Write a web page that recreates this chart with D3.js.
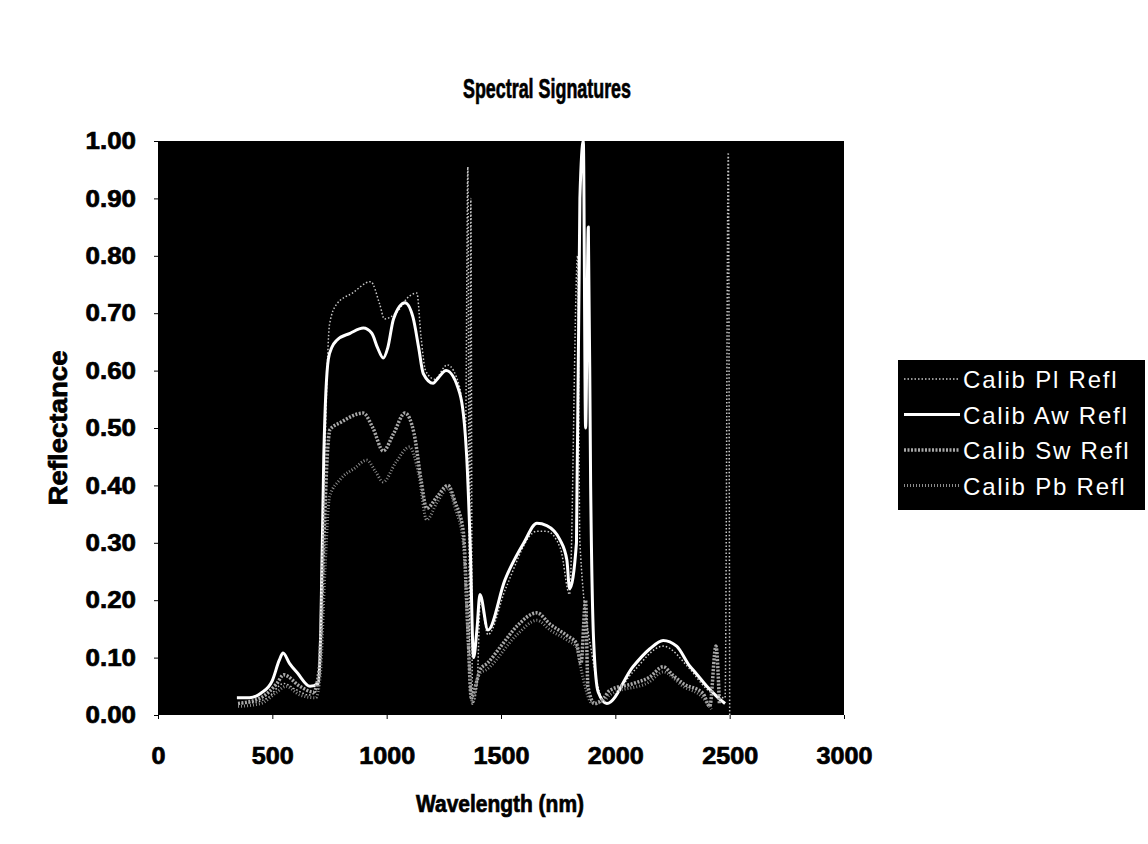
<!DOCTYPE html>
<html lang="en">
<head>
<meta charset="UTF-8">
<title>Spectral Signatures</title>
<script src="https://cdn.jsdelivr.net/npm/d3@7"></script>
<style>
  body { margin: 0; background: #fff; }
  text { font-family: "Liberation Sans", Arial, sans-serif; }
</style>
</head>
<body>
<script>
  // values: [wavelength nm, reflectance]
  let calibPl = [[350,0.02],[420,0.022],[480,0.03],[550,0.055],[600,0.045],[660,0.035],[700,0.045],[715,0.15],[730,0.45],[750,0.68],[780,0.715],[850,0.735],[930,0.755],[970,0.715],[990,0.69],[1040,0.70],[1100,0.73],[1132,0.735],[1150,0.66],[1170,0.60],[1210,0.585],[1265,0.61],[1320,0.57],[1345,0.50],[1355,0.955],[1362,0.10],[1368,0.90],[1375,0.02],[1395,0.05],[1410,0.20],[1443,0.14],[1520,0.22],[1657,0.32],[1700,0.32],[1760,0.29],[1800,0.21],[1835,0.8],[1845,0.3],[1900,0.1],[1960,0.02],[2077,0.075],[2209,0.12],[2326,0.08],[2400,0.045],[2480,0.03],[2494,0.98],[2500,0.0]];
  let calibAw = [[345,0.03],[400,0.03],[450,0.038],[500,0.06],[530,0.095],[547,0.108],[575,0.09],[610,0.073],[665,0.05],[700,0.055],[712,0.15],[725,0.45],[745,0.62],[761,0.641],[782,0.653],[840,0.665],[898,0.674],[935,0.665],[960,0.64],[985,0.622],[1005,0.64],[1030,0.69],[1080,0.718],[1115,0.693],[1140,0.64],[1160,0.595],[1203,0.578],[1225,0.587],[1260,0.6],[1320,0.56],[1350,0.45],[1365,0.3],[1380,0.1],[1395,0.15],[1408,0.21],[1443,0.148],[1517,0.235],[1600,0.30],[1657,0.334],[1700,0.33],[1758,0.305],[1788,0.27],[1800,0.22],[1830,0.30],[1845,0.90],[1860,1.0],[1870,0.5],[1882,0.85],[1892,0.40],[1905,0.13],[1925,0.04],[1963,0.02],[2077,0.084],[2150,0.115],[2209,0.13],[2268,0.12],[2326,0.085],[2348,0.075],[2400,0.05],[2450,0.03],[2480,0.02]];
  let calibSw = [[350,0.02],[450,0.03],[520,0.055],[550,0.07],[620,0.05],[680,0.04],[705,0.08],[725,0.3],[740,0.45],[752,0.497],[800,0.51],[897,0.526],[940,0.50],[985,0.46],[1030,0.49],[1080,0.526],[1120,0.49],[1150,0.41],[1175,0.36],[1220,0.38],[1268,0.40],[1300,0.37],[1335,0.32],[1355,0.15],[1370,0.03],[1395,0.06],[1410,0.08],[1440,0.09],[1500,0.12],[1570,0.155],[1657,0.178],[1715,0.158],[1790,0.138],[1830,0.125],[1850,0.09],[1870,0.20],[1880,0.05],[1910,0.02],[1950,0.03],[1976,0.043],[2080,0.055],[2150,0.066],[2209,0.084],[2250,0.07],[2296,0.055],[2383,0.038],[2413,0.015],[2440,0.12],[2455,0.02]];
  let calibPb = [[350,0.015],[450,0.02],[520,0.04],[560,0.05],[620,0.035],[690,0.03],[710,0.07],[730,0.25],[750,0.38],[796,0.41],[860,0.43],[913,0.444],[950,0.425],[985,0.406],[1040,0.44],[1100,0.467],[1140,0.42],[1175,0.34],[1220,0.37],[1268,0.395],[1300,0.36],[1335,0.30],[1360,0.10],[1375,0.02],[1400,0.07],[1440,0.08],[1570,0.14],[1657,0.165],[1715,0.148],[1790,0.13],[1830,0.118],[1850,0.08],[1900,0.02],[1950,0.025],[1976,0.035],[2150,0.058],[2209,0.075],[2296,0.05],[2383,0.03],[2420,0.01]];

  let seriesNames = ['Calib Pl Refl', 'Calib Aw Refl', 'Calib Sw Refl', 'Calib Pb Refl'];
  let seriesData = [calibPl, calibAw, calibSw, calibPb];
  let xTicks = [0, 500, 1000, 1500, 2000, 2500, 3000];
  let yTicks = [0, 0.1, 0.2, 0.3, 0.4, 0.5, 0.6, 0.7, 0.8, 0.9, 1.0];

  // line looks, same order as the names
  let styles = [
    { stroke: '#c8c8c8', width: 1.5, dash: '1.5,2' },
    { stroke: '#ffffff', width: 3, dash: null },
    { stroke: '#a8a8a8', width: 3.5, dash: '2,1.5' },
    { stroke: '#8c8c8c', width: 3, dash: '1,2' }
  ];

  let width = 1148,
      height = 844,
      plot = { left: 158, top: 141, right: 844, bottom: 715 };

  let svg = d3.select('body').append('svg').attr('width', width).attr('height', height);

  let x = d3.scaleLinear().domain([0, 3000]).range([plot.left, plot.right]);
  let y = d3.scaleLinear().domain([0, 1]).range([plot.bottom, plot.top]);

  svg.append('rect')
    .attr('x', plot.left).attr('y', plot.top)
    .attr('width', plot.right - plot.left).attr('height', plot.bottom - plot.top)
    .attr('fill', '#000');

  svg.append('clipPath').attr('id', 'clip')
    .append('rect')
    .attr('x', plot.left).attr('y', plot.top - 1)
    .attr('width', plot.right - plot.left).attr('height', plot.bottom - plot.top + 1);

  // bold labels in the scan are heavy, so a thin stroke thickens them
  function heavy(sel, size) {
    return sel.attr('font-size', size).attr('font-weight', 'bold').attr('fill', '#000')
      .attr('stroke', '#000').attr('stroke-width', 0.7)
      .style('font-family', '"Liberation Sans", Arial, sans-serif');
  }
  // the scanned digits are a bit wider than Liberation's
  function widen(sel, k) {
    sel.each(function () {
      let w = this.getComputedTextLength();
      d3.select(this).attr('textLength', w * k).attr('lengthAdjust', 'spacingAndGlyphs');
    });
  }

  // title (condensed in the scan)
  heavy(svg.append('text'), 28)
    .attr('x', 547).attr('y', 98)
    .attr('text-anchor', 'middle')
    .attr('textLength', 168).attr('lengthAdjust', 'spacingAndGlyphs')
    .text('Spectral Signatures');

  // axes
  let yAxis = d3.axisLeft(y).tickValues(yTicks).tickFormat(d3.format('.2f')).tickSize(4).tickPadding(18);
  let gy = svg.append('g').attr('transform', `translate(${plot.left},0)`).call(yAxis);
  gy.select('.domain').remove();
  heavy(gy.selectAll('text'), 24);
  widen(gy.selectAll('text'), 1.08);
  gy.selectAll('line').attr('stroke', '#000');

  let xAxis = d3.axisBottom(x).tickValues(xTicks).tickFormat(d3.format('d')).tickSize(4).tickPadding(28);
  let gx = svg.append('g').attr('transform', `translate(0,${plot.bottom})`).call(xAxis);
  gx.select('.domain').remove();
  heavy(gx.selectAll('text'), 24);
  widen(gx.selectAll('text'), 1.05);
  gx.selectAll('line').attr('stroke', '#000');

  heavy(svg.append('text'), 23)
    .attr('x', 500).attr('y', 812)
    .attr('text-anchor', 'middle')
    .attr('textLength', 168).attr('lengthAdjust', 'spacingAndGlyphs')
    .text('Wavelength (nm)');

  heavy(svg.append('text'), 25)
    .attr('transform', 'translate(67,428) rotate(-90)')
    .attr('text-anchor', 'middle')
    .attr('textLength', 155).attr('lengthAdjust', 'spacingAndGlyphs')
    .text('Reflectance');

  // series
  let line = d3.line()
    .x(d => x(d[0]))
    .y(d => y(d[1]))
    .curve(d3.curveMonotoneX);

  let lines = svg.append('g').attr('clip-path', 'url(#clip)');
  seriesData.forEach((data, i) => {
    lines.append('path')
      .datum(data)
      .attr('d', line)
      .attr('fill', 'none')
      .attr('stroke', styles[i].stroke)
      .attr('stroke-width', styles[i].width)
      .attr('stroke-dasharray', styles[i].dash)
      .attr('stroke-linejoin', 'round');
  });

  // legend
  let legend = svg.append('g').attr('transform', 'translate(898,360)');
  legend.append('rect').attr('width', 247).attr('height', 150).attr('fill', '#000');
  seriesNames.forEach((name, i) => {
    let row = legend.append('g').attr('transform', `translate(0,${19 + i * 35.5})`);
    row.append('line')
      .attr('x1', 6).attr('x2', 62).attr('y1', 0).attr('y2', 0)
      .attr('stroke', styles[i].stroke)
      .attr('stroke-width', styles[i].width)
      .attr('stroke-dasharray', styles[i].dash);
    row.append('text')
      .attr('x', 65).attr('y', 9)
      .attr('font-size', 24).attr('fill', '#fff')
      .attr('letter-spacing', 1.8)
      .text(name);
  });
</script>
</body>
</html>
